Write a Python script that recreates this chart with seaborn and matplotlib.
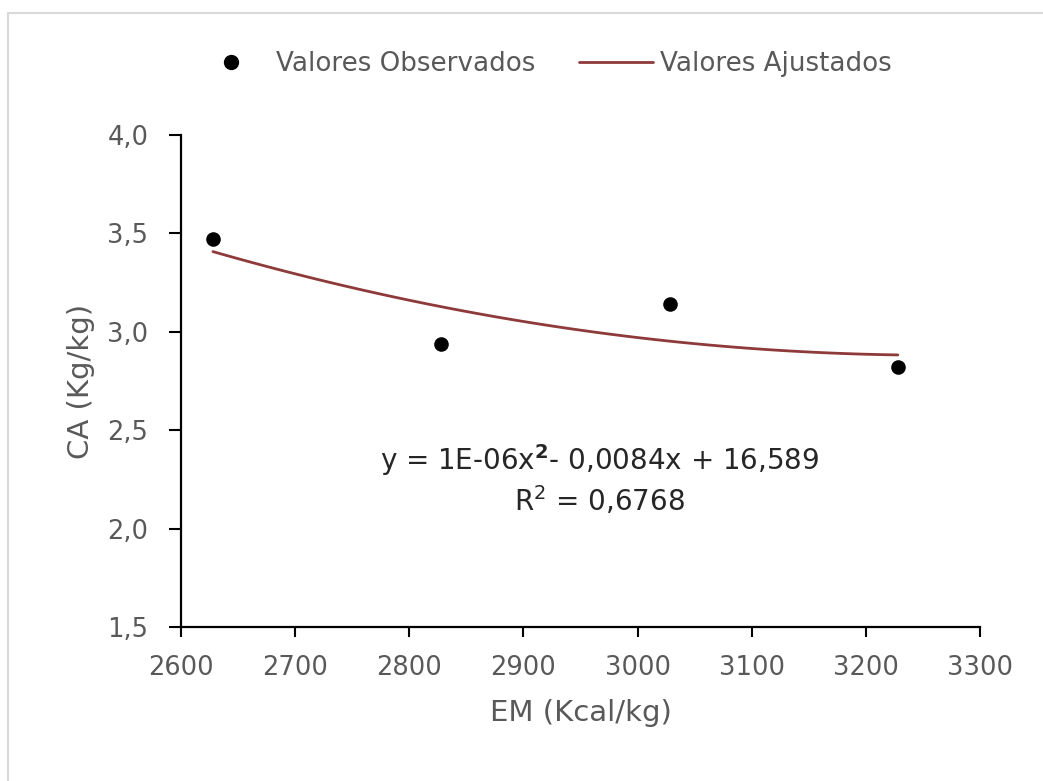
import matplotlib
matplotlib.use("Agg")
import matplotlib.pyplot as plt
import seaborn as sns
import pandas as pd
from matplotlib.lines import Line2D

# Data
em_values = [2628, 2828, 3028, 3228]
ca_values = [3.47, 2.94, 3.14, 2.82]
x_ticks = [2600, 2700, 2800, 2900, 3000, 3100, 3200, 3300]
y_ticks = [1.5, 2.0, 2.5, 3.0, 3.5, 4.0]
y_tick_labels = ["1,5", "2,0", "2,5", "3,0", "3,5", "4,0"]
equation_text = "y = 1E-06x$^{\\mathbf{2}}$- 0,0084x + 16,589"
r2_text = "R$^{2}$ = 0,6768"

df = pd.DataFrame({"EM": em_values, "CA": ca_values})

sns.set_theme(style="white")
plt.rcParams["font.family"] = ["DejaVu Sans"]
plt.rcParams["mathtext.fontset"] = "dejavusans"

fig = plt.figure(figsize=(10.43, 7.81), dpi=100)
ax = fig.add_axes([181 / 1043, 1 - 627 / 781, (980 - 181) / 1043, (627 - 135) / 781])

curve_color = "#8e3a3a"
sns.regplot(data=df, x="EM", y="CA", order=2, ci=None, scatter=False, ax=ax,
            line_kws=dict(color=curve_color, lw=2.0))
sns.scatterplot(data=df, x="EM", y="CA", ax=ax, color="black", s=110,
                edgecolor="black", linewidth=0, zorder=5)

ax.set_xlim(2600, 3300)
ax.set_ylim(1.5, 4.0)
ax.set_xticks(x_ticks)
ax.set_xticklabels([str(t) for t in x_ticks])
ax.set_yticks(y_ticks)
ax.set_yticklabels(y_tick_labels)

label_gray = "#595959"
ax.tick_params(axis="both", which="both", labelsize=18.5, colors="black",
               labelcolor=label_gray, length=8.5, width=1.5, direction="out")
ax.tick_params(axis="y", pad=15)
ax.tick_params(axis="x", pad=13, length=7)
ax.tick_params(left=True, bottom=True)

for side in ["top", "right"]:
    ax.spines[side].set_visible(False)
for side in ["left", "bottom"]:
    ax.spines[side].set_color("black")
    ax.spines[side].set_linewidth(1.6)

ax.set_xlabel("EM (Kcal/kg)", fontsize=21, color=label_gray, labelpad=13)
ax.set_ylabel("CA (Kg/kg)", fontsize=21, color=label_gray, labelpad=9)

ax.text(0.524, 0.339, equation_text, transform=ax.transAxes, ha="center",
        va="center", fontsize=20, color="#262626")
ax.text(0.524, 0.258, r2_text, transform=ax.transAxes, ha="center",
        va="center", fontsize=20, color="#262626")

handles = [
    Line2D([], [], marker="o", linestyle="none", color="black", markersize=10),
    Line2D([], [], color=curve_color, lw=2.0),
]
fig.legend(handles, ["Valores Observados", "Valores Ajustados"],
           loc="center", bbox_to_anchor=(0.521, 1 - 64 / 781),
           ncol=2, frameon=False, fontsize=18.8, labelcolor=label_gray,
           handlelength=2.8, handletextpad=0.3, columnspacing=1.7)

# Outer chart border (top and left visible in reference)
border_color = "#d9d9d9"
fig.add_artist(Line2D([8 / 1043, 1.0], [1 - 13 / 781, 1 - 13 / 781],
                      transform=fig.transFigure, color=border_color, lw=1.5))
fig.add_artist(Line2D([8 / 1043, 8 / 1043], [0.0, 1 - 13 / 781],
                      transform=fig.transFigure, color=border_color, lw=1.5))

fig.savefig("out.png", dpi=100, facecolor="white")
